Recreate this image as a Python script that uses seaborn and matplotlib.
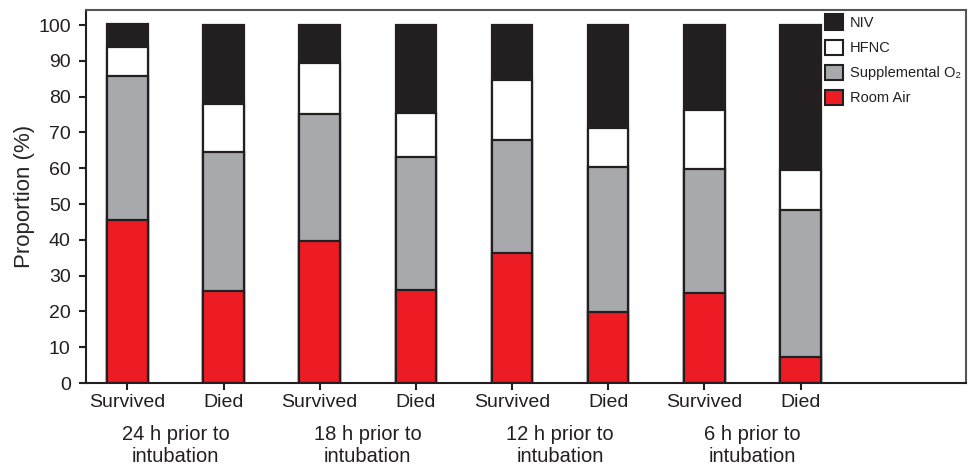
import matplotlib
matplotlib.use("Agg")
import matplotlib.pyplot as plt
from matplotlib.patches import Patch
import matplotlib.transforms as mtransforms
import seaborn as sns
import pandas as pd
import numpy as np

# Data (percent of patients)
groups = ["24 h prior to\nintubation", "18 h prior to\nintubation",
          "12 h prior to\nintubation", "6 h prior to\nintubation"]
outcomes = ["Survived", "Died"]
bar_ids = ["24S", "24D", "18S", "18D", "12S", "12D", "6S", "6D"]
room_air = [45.5, 25.6, 39.7, 26.0, 36.3, 19.7, 25.1, 7.2]
supplemental_o2 = [40.3, 38.8, 35.4, 37.1, 31.6, 40.6, 34.7, 41.2]
hfnc = [8.2, 13.5, 14.2, 12.2, 16.8, 10.9, 16.5, 11.1]
niv = [6.3, 22.1, 10.7, 24.7, 15.3, 28.8, 23.7, 40.5]

series = ["NIV", "HFNC", "Supplemental O\u2082", "Room Air"]
colors = {"NIV": "#231F20", "HFNC": "#FFFFFF",
          "Supplemental O\u2082": "#A7A9AC", "Room Air": "#ED1C24"}

sns.set_theme(style="white")
plt.rcParams["font.family"] = ["Liberation Sans", "DejaVu Sans"]

df = pd.DataFrame({"bar": bar_ids, "Room Air": room_air,
                   "Supplemental O\u2082": supplemental_o2,
                   "HFNC": hfnc, "NIV": niv})
stack_order = ["Room Air", "Supplemental O\u2082", "HFNC", "NIV"]
cum = df[stack_order].cumsum(axis=1)

fig, ax = plt.subplots(figsize=(9.68, 4.68), dpi=100)
fig.subplots_adjust(left=0.0888, right=0.998, bottom=0.1816, top=0.9786)

edge = "#231F20"
for s in reversed(stack_order):
    sns.barplot(x=df["bar"], y=cum[s], order=bar_ids, color=colors[s],
                saturation=1, width=0.42, edgecolor=edge, linewidth=1.6,
                ax=ax, zorder=2)

ax.set_xlim(-0.43, 8.72)
ax.set_ylim(0, 104.2)
ax.set_yticks(np.arange(0, 101, 10))
ax.set_xticks(range(len(bar_ids)))
ax.set_xticklabels([outcomes[i % 2] for i in range(len(bar_ids))])
ax.set_xlabel("")
ax.set_ylabel("Proportion (%)", fontsize=16, labelpad=2)
ax.tick_params(axis="both", direction="out", length=5, width=1.5,
               color=edge, labelsize=14, labelcolor="#231F20",
               left=True, bottom=True)
ax.tick_params(axis="y", pad=6)
ax.tick_params(axis="x", pad=3)
for sp in ax.spines.values():
    sp.set_visible(True)
    sp.set_color("#555555")
    sp.set_linewidth(1.5)
ax.spines["left"].set_color(edge)
ax.spines["bottom"].set_color(edge)

trans = mtransforms.blended_transform_factory(ax.transData, ax.transAxes)
for i, g in enumerate(groups):
    ax.text(2 * i + 0.5, -0.112, g, transform=trans, ha="center", va="top",
            fontsize=14.5, color="#231F20", linespacing=1.2)

handles = [Patch(facecolor=colors[s], edgecolor=edge, linewidth=1.5, label=s)
           for s in series]
leg = ax.legend(handles=handles, loc="upper left", frameon=False,
                fontsize=10.5, handlelength=1.25, handleheight=1.25,
                handletextpad=0.45, labelspacing=0.65, borderpad=0,
                bbox_to_anchor=(0.8398, 0.988), borderaxespad=0)
for t in leg.get_texts():
    t.set_color("#231F20")

fig.savefig("out.png", dpi=100)
